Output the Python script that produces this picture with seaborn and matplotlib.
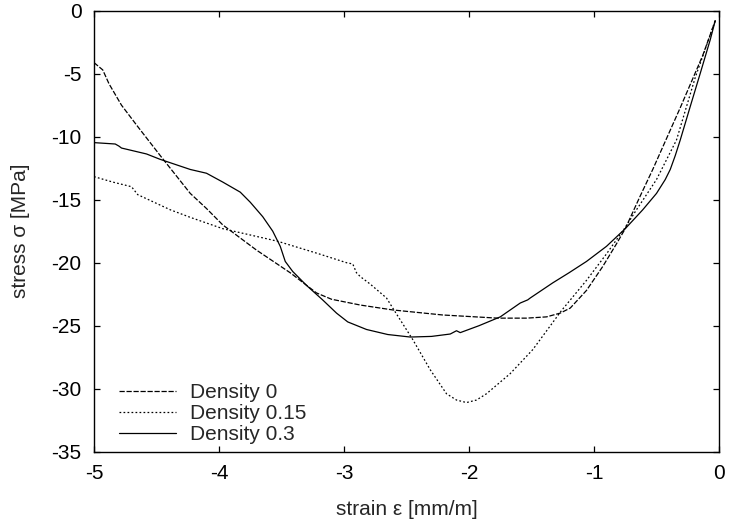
import numpy as np
import pandas as pd
import matplotlib
matplotlib.use('Agg')
import matplotlib.pyplot as plt
import seaborn as sns

# 데이터
labels = ['Density 0', 'Density 0.15', 'Density 0.3']

strain_d0 = [-5.0, -4.93, -4.88, -4.78, -4.65, -4.47, -4.23, -4.10, -3.97, -3.70, -3.43, -3.22,
             -3.10, -2.95, -2.87, -2.61, -2.21, -1.77, -1.54, -1.38, -1.27, -1.19, -1.06, -0.93,
             -0.82, -0.75, -0.63, -0.53, -0.31, -0.13, -0.03]
stress_d0 = [-4.12, -4.7, -5.8, -7.5, -9.2, -11.5, -14.5, -15.7, -17.0, -19.0, -20.8, -22.4,
             -22.9, -23.2, -23.36, -23.75, -24.15, -24.4, -24.4, -24.3, -24.0, -23.6, -22.2, -20.3,
             -18.5, -17.3, -14.7, -12.6, -7.7, -3.55, -0.79]

strain_d015 = [-5.0, -4.85, -4.70, -4.65, -4.39, -4.23, -3.97, -3.53, -3.2, -2.98, -2.93, -2.90,
               -2.87, -2.79, -2.66, -2.61, -2.45, -2.31, -2.18, -2.1, -2.02, -1.94, -1.86, -1.67,
               -1.49, -1.26, -1.06, -0.9, -0.75, -0.67, -0.50, -0.34, -0.19, -0.03]
stress_d015 = [-13.17, -13.6, -13.97, -14.6, -15.8, -16.4, -17.3, -18.3, -19.3, -20.0, -20.1, -20.8,
               -21.1, -21.7, -22.8, -23.6, -26.1, -28.5, -30.4, -30.9, -31.1, -30.9, -30.4, -28.8,
               -26.9, -23.8, -21.4, -19.3, -17.2, -15.95, -13.4, -10.26, -5.3, -0.79]

strain_d03 = [-5.0, -4.83, -4.80, -4.78, -4.58, -4.47, -4.23, -4.10, -3.97, -3.83, -3.75, -3.65,
              -3.57, -3.51, -3.47, -3.41, -3.30, -3.17, -3.06, -2.97, -2.82, -2.65, -2.47, -2.30,
              -2.15, -2.10, -2.07, -1.92, -1.75, -1.59, -1.53, -1.51, -1.33, -1.2, -1.06, -0.9,
              -0.75, -0.61, -0.50, -0.43, -0.39, -0.35, -0.31, -0.23, -0.15, -0.07, -0.03]
stress_d03 = [-10.47, -10.58, -10.75, -10.9, -11.37, -11.8, -12.6, -12.9, -13.6, -14.4, -15.2, -16.35,
              -17.5, -18.7, -19.9, -20.7, -21.8, -22.96, -24.0, -24.7, -25.3, -25.7, -25.9, -25.85,
              -25.66, -25.4, -25.55, -25.0, -24.3, -23.2, -22.95, -22.8, -21.6, -20.8, -19.9, -18.7,
              -17.3, -15.8, -14.5, -13.4, -12.6, -11.5, -10.26, -7.6, -4.97, -2.3, -0.79]

xticks = [-5, -4, -3, -2, -1, 0]
yticks = [-35, -30, -25, -20, -15, -10, -5, 0]

#%%
df = pd.concat([
    pd.DataFrame({'strain': strain_d0, 'stress': stress_d0, 'series': labels[0]}),
    pd.DataFrame({'strain': strain_d015, 'stress': stress_d015, 'series': labels[1]}),
    pd.DataFrame({'strain': strain_d03, 'stress': stress_d03, 'series': labels[2]}),
], ignore_index=True)

sns.set_style('ticks')
plt.rcParams['font.family'] = ['Liberation Sans', 'DejaVu Sans']
plt.rcParams['axes.unicode_minus'] = False

fig = plt.figure(figsize=(7.3, 5.21), dpi=100)
ax = fig.add_axes([94 / 730, 1 - 451.7 / 521, 625 / 730, 441 / 521])

lw = 0.9
sns.lineplot(data=df, x='strain', y='stress', hue='series', style='series',
             palette=['black'] * 3,
             dashes={labels[0]: (4.2, 1.4), labels[1]: (1.4, 1.8), labels[2]: ''},
             sort=False, estimator=None, linewidth=lw, ax=ax)

ax.set_xlim(-5, 0)
ax.set_ylim(-35, 0)
ax.set_xticks(xticks)
ax.set_yticks(yticks)
ax.set_xticklabels([str(t) for t in xticks])
ax.set_yticklabels([str(t) for t in yticks])
ax.tick_params(direction='in', length=4.5, width=0.9, top=True, right=True,
               labelsize=15, colors='black')
ax.tick_params(axis='x', pad=9)
ax.tick_params(axis='y', pad=9)
for s in ax.spines.values():
    s.set_linewidth(1.0)
    s.set_color('black')

ax.set_xlabel('strain ε [mm/m]', fontsize=15, labelpad=12)
ax.set_ylabel('stress σ [MPa]', fontsize=15, labelpad=15)

handles, lbls = ax.get_legend_handles_labels()
ax.legend(handles, lbls, loc='lower left', bbox_to_anchor=(0.04, 0.017),
          frameon=False, fontsize=15, handlelength=2.75, handletextpad=0.67,
          labelspacing=0.1, borderpad=0, borderaxespad=0)

plt.savefig('out.png', dpi=100)
